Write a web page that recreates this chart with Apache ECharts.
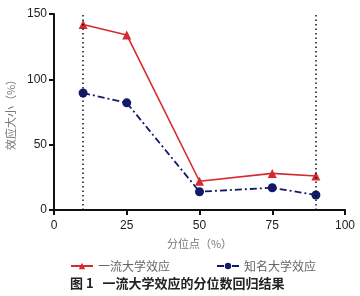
<!DOCTYPE html>
<html><head><meta charset="utf-8">
<script src="https://cdn.jsdelivr.net/npm/echarts@6/dist/echarts.min.js"></script>
<style>html,body{margin:0;padding:0;background:#fff}#c{width:360px;height:296px}</style>
</head><body><div id="c"></div>
<script>
var quantiles = [10, 25, 50, 75, 90];
var firstClass = [142, 134, 22, 28, 26];
var famous = [89.5, 82, 14, 17, 11.5];
var seriesNames = ['一流大学效应', '知名大学效应'];
var refLines = [10, 90];

var chart = echarts.init(document.getElementById('c'));
function pairs(xs, ys){ return xs.map(function(x,i){ return [x, ys[i]]; }); }
chart.setOption({
  animation: false,
  textStyle: {fontFamily: 'Liberation Sans, Arial, sans-serif'},
  title: {
    text: '图 1   一流大学效应的分位数回归结果',
    left: 70, top: 277, padding: 0,
    textStyle: {fontSize: 13, fontWeight: 'bold', color: '#222', fontFamily: 'Noto Sans CJK SC'}
  },
  legend: {
    top: 260, left: 70, padding: 0, itemGap: 46, itemWidth: 22, itemHeight: 8,
    textStyle: {fontSize: 12, color: '#666', fontFamily: 'Noto Sans CJK SC'},
    data: seriesNames
  },
  grid: {left: 54, right: 15, top: 14, bottom: 86, containLabel: false, outerBoundsMode: 'none'},
  xAxis: {
    type: 'value', min: 0, max: 100, interval: 25,
    name: '分位点（%）', nameLocation: 'middle', nameGap: 28,
    nameTextStyle: {fontSize: 11, color: '#777', fontFamily: 'Noto Sans CJK SC'},
    axisLine: {lineStyle: {color: '#111', width: 2}},
    axisTick: {show: true, length: 5, lineStyle: {width: 2}},
    axisLabel: {fontSize: 12, color: '#222', margin: 10},
    splitLine: {show: false}
  },
  yAxis: {
    type: 'value', min: 0, max: 150, interval: 50,
    name: '效应大小（%）', nameLocation: 'middle', nameGap: 37,
    nameTextStyle: {fontSize: 11, color: '#777', fontFamily: 'Noto Sans CJK SC'},
    axisLine: {show: true, lineStyle: {color: '#111', width: 2}},
    axisTick: {show: true, length: 5, lineStyle: {width: 2}},
    axisLabel: {fontSize: 12, color: '#222', margin: 7},
    splitLine: {show: false}
  },
  series: [
    {
      name: seriesNames[0], type: 'line', data: pairs(quantiles, firstClass),
      symbol: 'triangle', symbolSize: 9,
      itemStyle: {color: '#d42a30'},
      lineStyle: {color: '#d42a30', width: 1.6},
      markLine: {
        silent: true, symbol: 'none', label: {show: false},
        lineStyle: {color: '#111', type: [1.5, 3], width: 1.5},
        data: refLines.map(function(v){ return [{coord: [v, 0]}, {coord: [v, 150]}]; })
      },
      z: 3
    },
    {
      name: seriesNames[1], type: 'line', data: pairs(quantiles, famous),
      symbol: 'circle', symbolSize: 9,
      itemStyle: {color: '#141a6a'},
      lineStyle: {color: '#141a6a', width: 1.8, type: [7, 3, 2, 3]},
      z: 3
    }
  ]
});
</script></body></html>
